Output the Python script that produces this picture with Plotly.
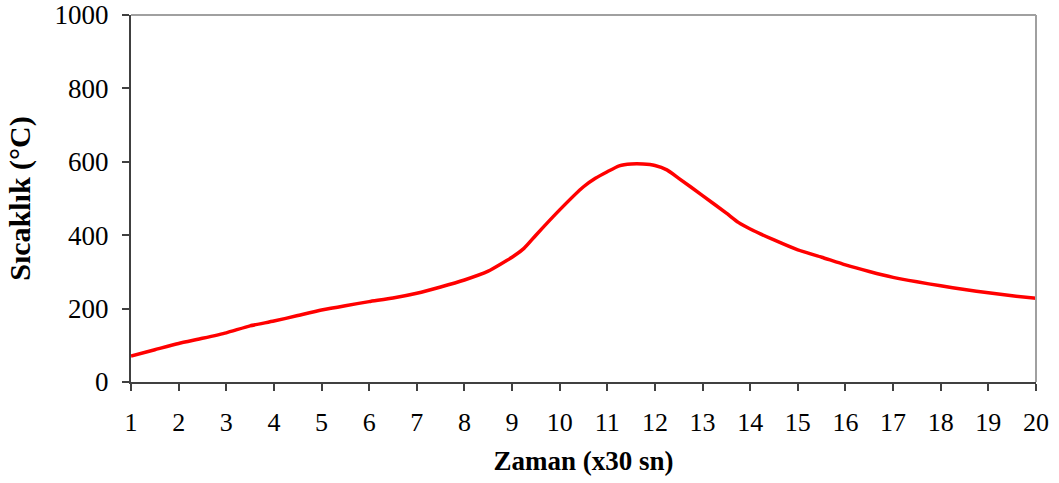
import plotly.graph_objects as go

# Time in steps of 30 s and the measured temperature (°C)
zaman = [1, 1.5, 2, 2.5, 3, 3.5, 4, 4.5, 5, 5.5, 6, 6.5, 7, 7.5, 8, 8.5, 9, 9.25, 9.5,
         10, 10.5, 10.75, 11, 11.25, 11.5, 11.75, 12, 12.25, 12.5, 13, 13.5, 13.75,
         14, 14.5, 15, 15.5, 16, 16.5, 17, 17.5, 18, 18.5, 19, 19.5, 20]
sicaklik = [71, 88, 105, 119, 134, 153, 166, 181, 196, 208, 219, 229, 242, 259, 278,
            302, 340, 364, 400, 469, 532, 555, 573, 589, 594, 594, 590, 578, 555, 508,
            460, 435, 417, 387, 360, 340, 319, 301, 285, 273, 262, 252, 243, 235, 228]

x_ticks = list(range(1, 21))
y_ticks = [0, 200, 400, 600, 800, 1000]

fig = go.Figure()
fig.add_trace(go.Scatter(
    x=zaman, y=sicaklik, mode="lines",
    line=dict(color="#ff0000", width=3.5, shape="spline", smoothing=0.5),
    showlegend=False, hoverinfo="skip",
))

font_family = "Liberation Serif, Times New Roman, serif"

fig.update_layout(
    width=1059, height=483,
    margin=dict(l=131, r=23, t=15, b=101),
    paper_bgcolor="white", plot_bgcolor="white",
    font=dict(family=font_family, color="black", size=26),
    xaxis=dict(
        range=[1, 20], tickmode="array", tickvals=x_ticks,
        ticks="outside", ticklen=7, tickwidth=1.5, tickcolor="#404040",
        showline=True, linecolor="#404040", linewidth=2,
        showgrid=False, zeroline=False, ticklabelstandoff=9,
        tickfont=dict(size=26), automargin=False,
        title=dict(text="<b>Zaman (x30 sn)</b>", font=dict(size=27), standoff=15),
    ),
    yaxis=dict(
        range=[0, 1000], tickmode="array", tickvals=y_ticks,
        ticks="outside", ticklen=7, tickwidth=1.5, tickcolor="#404040",
        showline=True, linecolor="#404040", linewidth=2,
        showgrid=False, zeroline=False, ticklabelstandoff=8,
        tickfont=dict(size=27), automargin=False,
        title=dict(text="<b>Sıcaklık (°C)</b>", font=dict(size=30), standoff=15),
    ),
    shapes=[
        dict(type="line", xref="paper", yref="paper", x0=0, x1=1, y0=1, y1=1,
             line=dict(color="#a0a0a0", width=2)),
        dict(type="line", xref="paper", yref="paper", x0=1, x1=1, y0=0, y1=1,
             line=dict(color="#a0a0a0", width=2)),
    ],
)

fig.write_html("out.html")
